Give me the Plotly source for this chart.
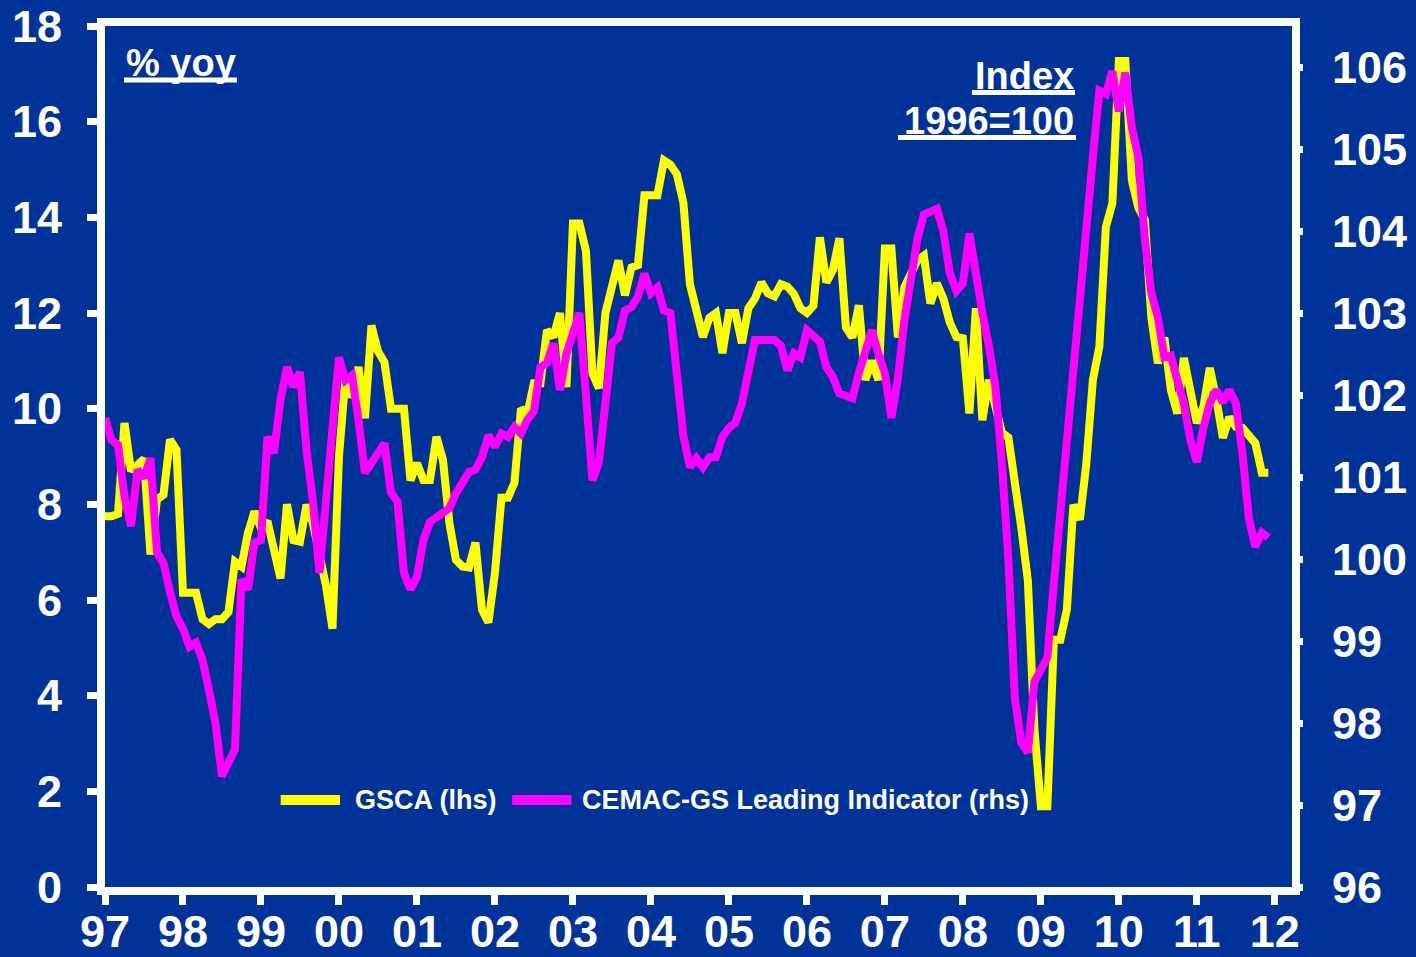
import plotly.graph_objects as go

# Monthly observations, Jan 1997 - Dec 2011
start_year = 1997
year_labels = ["97", "98", "99", "00", "01", "02", "03", "04",
               "05", "06", "07", "08", "09", "10", "11", "12"]

# GSCA, % yoy (left axis)
gsca = [
    7.75, 7.75, 7.8, 9.7, 8.7, 8.8, 8.95, 6.95, 8.1, 8.2, 9.35, 9.14,          # 1997
    6.15, 6.15, 6.15, 5.6, 5.5, 5.6, 5.6, 5.75, 6.8, 6.7, 7.4, 7.85,           # 1998
    7.5, 7.65, 7.0, 6.45, 8.0, 7.25, 7.22, 7.99, 7.6, 7.0, 6.3, 5.4,           # 1999
    9.0, 10.66, 10.24, 10.87, 9.8, 11.74, 11.2, 10.97, 10.0, 10.0, 10.0, 8.5,  # 2000
    8.86, 8.51, 8.51, 9.41, 8.93, 7.6, 6.84, 6.7, 6.68, 7.2, 5.8, 5.53,        # 2001
    6.57, 8.14, 8.14, 8.45, 10.0, 9.9, 10.53, 10.53, 11.64, 11.5, 12.0, 10.45, # 2002
    13.87, 13.87, 13.3, 10.74, 10.43, 12.0, 12.5, 13.1, 12.37, 12.95, 13.0, 14.46,  # 2003
    14.46, 14.46, 15.19, 15.1, 14.9, 14.3, 12.6, 12.0, 11.5, 11.9, 12.0, 11.16,     # 2004
    12.0, 12.0, 11.37, 12.1, 12.3, 12.64, 12.41, 12.35, 12.6, 12.55, 12.4, 12.1,    # 2005
    12.0, 12.15, 13.58, 12.64, 12.9, 13.56, 11.7, 11.49, 12.16, 10.6, 11.0, 10.6,   # 2006
    13.35, 13.35, 11.49, 12.54, 12.8, 13.1, 13.2, 12.2, 12.62, 12.3, 11.8, 11.5,    # 2007
    11.47, 9.9, 12.1, 9.76, 10.6, 10.0, 9.5, 9.4, 8.51, 7.5, 6.4, 3.3,              # 2008
    1.69, 1.69, 5.17, 5.17, 5.8, 7.99, 7.68, 8.86, 10.6, 11.3, 13.8, 14.29,         # 2009
    17.27, 17.27, 14.77, 14.2, 13.95, 11.9, 10.95, 11.49, 10.39, 9.9, 11.06, 10.3,  # 2010
    9.7, 10.03, 10.85, 10.2, 9.39, 9.82, 9.62, 9.6, 9.41, 9.28, 8.66, 8.66,         # 2011
]

# CEMAC-GS Leading Indicator, index 1996=100 (right axis)
cemac = [
    101.72, 101.45, 101.39, 100.76, 100.4, 101.09, 100.99, 101.23, 100.08, 99.95, 99.6, 99.3,      # 1997
    99.15, 98.93, 98.98, 98.77, 98.4, 98.0, 97.35, 97.5, 97.68, 99.75, 99.63, 100.2,               # 1998
    100.23, 101.49, 101.29, 101.94, 102.34, 102.1, 102.28, 101.33, 100.7, 99.83, 100.7, 101.6,     # 1999
    102.46, 102.18, 102.24, 101.7, 101.05, 101.17, 101.3, 101.41, 100.81, 100.7, 99.83, 99.63,     # 2000
    99.78, 100.23, 100.45, 100.5, 100.55, 100.62, 100.8, 100.94, 101.06, 101.09, 101.24, 101.51,   # 2001
    101.37, 101.53, 101.49, 101.61, 101.53, 101.7, 101.8, 102.34, 102.39, 102.63, 102.06, 102.5,   # 2002
    102.79, 103.0, 102.0, 100.96, 101.18, 101.9, 102.63, 102.7, 103.03, 103.07, 103.2, 103.48,     # 2003
    103.24, 103.31, 103.03, 103.0, 102.2, 101.5, 101.12, 101.23, 101.12, 101.24, 101.24, 101.49,   # 2004
    101.6, 101.66, 101.9, 102.3, 102.67, 102.67, 102.67, 102.67, 102.6, 102.3, 102.51, 102.46,     # 2005
    102.79, 102.72, 102.65, 102.34, 102.22, 102.02, 101.98, 101.96, 102.27, 102.5, 102.79, 102.5,  # 2006
    102.27, 101.72, 102.2, 102.91, 103.4, 103.9, 104.2, 104.24, 104.27, 104.0, 103.48, 103.27,     # 2007
    103.36, 103.97, 103.4, 103.0, 102.6, 102.1, 101.17, 100.0, 98.3, 97.76, 97.64, 98.5,           # 2008
    98.65, 98.8, 99.7, 100.6, 101.4, 102.2, 103.1, 103.97, 104.9, 105.71, 105.67, 105.95,          # 2009
    105.46, 105.93, 105.26, 104.9, 103.9, 103.24, 102.95, 102.46, 102.48, 102.18, 101.9, 101.45,   # 2010
    101.18, 101.6, 101.9, 102.06, 101.91, 102.06, 101.9, 101.3, 100.5, 100.15, 100.32, 100.26,     # 2011
]

left_ticks = list(range(0, 19, 2))
right_ticks = list(range(96, 107))

months = [start_year + i / 12 for i in range(len(gsca))]
year_ticks = [start_year + i for i in range(len(year_labels))]

BG = "#003399"
WHITE = "#FFFFFF"
YELLOW = "#FFFF00"
MAGENTA = "#FF00FF"
FONT = "Liberation Sans, Arial, sans-serif"

fig = go.Figure()
fig.add_trace(go.Scatter(
    x=months, y=gsca, mode="lines", name="GSCA (lhs)",
    line=dict(color=YELLOW, width=8), showlegend=False,
))
fig.add_trace(go.Scatter(
    x=months, y=cemac, mode="lines", name="CEMAC-GS Leading Indicator (rhs)",
    line=dict(color=MAGENTA, width=8), yaxis="y2", showlegend=False,
))

tickfont = dict(family=FONT, size=45, color=WHITE, weight="bold")

fig.update_layout(
    width=1416, height=957,
    margin=dict(l=105, r=124, t=26, b=70),
    paper_bgcolor=BG, plot_bgcolor=BG,
    font=dict(family=FONT, color=WHITE),
    xaxis=dict(
        range=[1997, 2012.22], tickvals=year_ticks, ticktext=year_labels,
        showgrid=False, zeroline=False, showline=True, mirror=True,
        linecolor=WHITE, linewidth=8, ticks="outside", ticklen=10,
        tickwidth=7, tickcolor=WHITE, tickfont=tickfont,
        ticklabelstandoff=-12, automargin=False,
    ),
    yaxis=dict(
        range=[0, 18], tickvals=left_ticks,
        showgrid=False, zeroline=False, showline=True, mirror=True,
        linecolor=WHITE, linewidth=8, ticks="outside", ticklen=10,
        tickwidth=7, tickcolor=WHITE, tickfont=tickfont,
        ticklabelstandoff=16, automargin=False,
    ),
    yaxis2=dict(
        range=[96, 106.5], tickvals=right_ticks, overlaying="y", side="right",
        showgrid=False, zeroline=False, showline=False,
        ticks="outside", ticklen=10, tickwidth=7, tickcolor=WHITE,
        tickfont=tickfont, ticklabelstandoff=20, automargin=False,
    ),
)

# Unit labels with heavy underlines
label_font = dict(family=FONT, size=38, color=WHITE, weight="bold")
unit_labels = [
    ("% yoy", 0.016, 0.9837, "left"),
    ("Index", 0.818, 0.9686, "right"),
    ("1996=100", 0.818, 0.9164, "right"),
]
for text, x, y, anchor in unit_labels:
    fig.add_annotation(text=text, xref="paper", yref="paper", x=x, y=y,
                       xanchor=anchor, yanchor="top", showarrow=False,
                       font=label_font)

underlines = [(0.016, 0.1112, 0.9373), (0.7304, 0.8172, 0.9228), (0.6681, 0.8180, 0.8705)]
for x0, x1, y in underlines:
    fig.add_shape(type="line", xref="paper", yref="paper", x0=x0, x1=x1,
                  y0=y, y1=y, line=dict(color=WHITE, width=5))

# Legend drawn along the bottom of the plot area
legend_font = dict(family=FONT, size=27, color=WHITE, weight="bold")
legend_y = 0.101
legend_items = [
    (YELLOW, 0.148, 0.198, 0.209, "GSCA (lhs)"),
    (MAGENTA, 0.343, 0.393, 0.4, "CEMAC-GS Leading Indicator (rhs)"),
]
for color, x0, x1, xt, label in legend_items:
    fig.add_shape(type="line", xref="paper", yref="paper",
                  x0=x0, x1=x1, y0=legend_y, y1=legend_y,
                  line=dict(color=color, width=10))
    fig.add_annotation(text=label, xref="paper", yref="paper", x=xt, y=legend_y,
                       xanchor="left", yanchor="middle", showarrow=False,
                       font=legend_font)

fig.write_html("out.html")
